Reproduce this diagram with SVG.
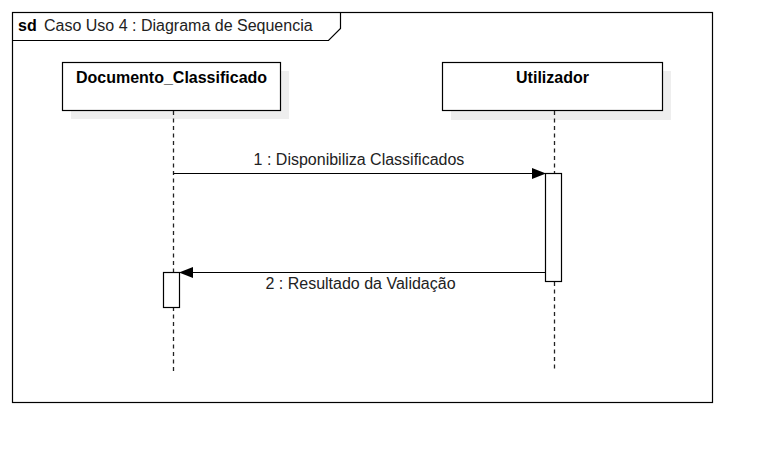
<svg xmlns="http://www.w3.org/2000/svg" width="762" height="452" viewBox="0 0 762 452">
<style>
text{font-family:"Liberation Sans",Arial,sans-serif;font-size:16px;fill:#222}
.b{font-weight:bold;fill:#000}
.box{fill:#fff;stroke:#000;stroke-width:1.2}
.sh{fill:#eeeeee;stroke:none}
.life{stroke:#222;stroke-width:1.3;stroke-dasharray:4 3.5;fill:none}
.msg{stroke:#000;stroke-width:1.2;fill:none}
.act{fill:#fff;stroke:#000;stroke-width:1.2}
</style>
<defs>
<marker id="arr" markerWidth="14" markerHeight="11" refX="13" refY="5.5" orient="auto" markerUnits="userSpaceOnUse">
<path d="M0,0 L14,5.5 L0,11 Z" fill="#000"/>
</marker>
</defs>
<rect width="762" height="452" fill="#fff"/>
<g id="frame">
<rect x="12.5" y="12.5" width="700" height="390" fill="none" stroke="#000" stroke-width="1.2"/>
<path d="M12.5,40.5 H328.5 L340.5,28.5 V12.5" fill="none" stroke="#000" stroke-width="1.2"/>
<text class="b" x="18" y="31">sd</text>
<text x="44" y="31">Caso Uso 4 : Diagrama de Sequencia</text>
</g>
<g id="doc">
<rect class="sh" x="71" y="71" width="218" height="48"/>
<rect class="box" x="62.5" y="62.5" width="218" height="48"/>
<text class="b" x="171.5" y="83" text-anchor="middle">Documento_Classificado</text>
</g>
<g id="util">
<rect class="sh" x="451" y="71" width="220" height="49"/>
<rect class="box" x="442.5" y="62.5" width="220" height="48"/>
<text class="b" x="552.5" y="83" text-anchor="middle">Utilizador</text>
</g>
<g id="connectors">
<line class="life" x1="173.5" y1="111" x2="173.5" y2="272"/>
<line class="life" x1="173.5" y1="307" x2="173.5" y2="372"/>
<line class="life" x1="554.5" y1="111" x2="554.5" y2="173"/>
<line class="life" x1="554.5" y1="282" x2="554.5" y2="372"/>
<line class="msg" x1="173.5" y1="173.5" x2="545" y2="173.5" marker-end="url(#arr)"/>
<text x="359" y="165" text-anchor="middle">1 : Disponibiliza Classificados</text>
<line class="msg" x1="545" y1="272.5" x2="180" y2="272.5" marker-end="url(#arr)"/>
<text x="360.5" y="289" text-anchor="middle">2 : Resultado da Validação</text>
</g>
<g id="act-util">
<rect class="act" x="545.5" y="173.5" width="16" height="108"/>
</g>
<g id="act-doc">
<rect class="act" x="163.5" y="272.5" width="16" height="35"/>
</g>
</svg>
